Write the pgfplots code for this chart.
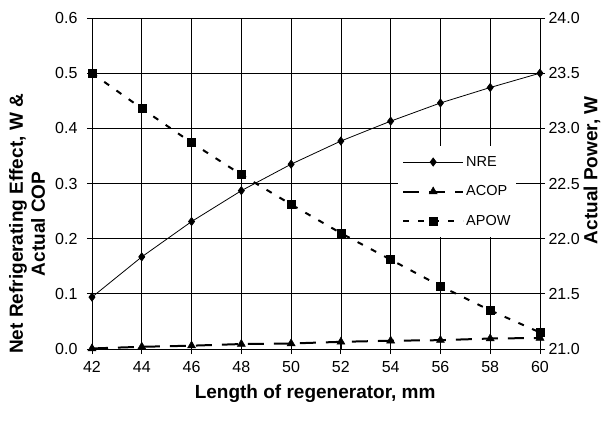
\documentclass[border=0pt]{standalone}
\usepackage{fontspec}
\setmainfont{Liberation Sans}
\usepackage{pgfplots}
\pgfplotsset{compat=1.18}

\pgfplotsset{
  chartbase/.style={
    scale only axis, width=448pt, height=331pt,
    xmin=42, xmax=60,
    tick align=center, major tick length=10pt,
    tick style={black, line width=0.8pt},
    axis line style={black, line width=0.8pt},
    ticklabel style={font=\fontsize{16}{18}\selectfont},
    /pgf/number format/assume math mode=true,
    label style={font=\fontsize{19}{22}\selectfont\bfseries},
  },
  nre/.style={black, line width=0.8pt, mark=diamond*, mark size=4pt, mark options={solid}},
  acop/.style={black, line width=2pt, dash pattern=on 16pt off 10pt, mark=triangle*, mark size=4.6pt, mark options={solid, line width=0.5pt}},
  apow/.style={black, line width=2pt, dash pattern=on 6pt off 9pt, mark=square*, mark size=4pt, mark options={solid, line width=0.5pt}},
}

\begin{document}
\begin{tikzpicture}
\useasboundingbox (-92pt,-72pt) rectangle (511pt,349pt);
\begin{axis}[
  chartbase,
  ymin=0, ymax=0.6,
  xtick={42,44,46,48,50,52,54,56,58,60},
  ytick={0,0.1,0.2,0.3,0.4,0.5,0.6},
  xtick pos=bottom, ytick pos=left,
  xticklabel style={yshift=-4pt},
  yticklabel style={xshift=-6pt, /pgf/number format/.cd, fixed, fixed zerofill, precision=1},
  grid=major, major grid style={black, line width=0.7pt},
  xlabel={Length of regenerator, mm},
  xlabel style={at={(axis description cs:0.498,-0.135)}, anchor=center},
  ylabel={Net Refrigerating Effect, W \&\\Actual COP},
  ylabel style={align=center, at={(axis description cs:-0.145,0.378)}, anchor=center},
  legend style={at={(axis description cs:0.683,0.613)}, anchor=north west,
    draw=none, fill=white, font=\fontsize{14.5}{16}\selectfont,
    row sep=14pt, inner xsep=4pt, inner ysep=8pt},
  legend cell align=left,
  legend image code/.code={\draw[mark repeat=2, mark phase=2, #1] plot coordinates {(0pt,0pt) (30pt,0pt) (60pt,0pt)};},
]
\addplot[nre] coordinates {(42,0.094) (44,0.167) (46,0.231) (48,0.287) (50,0.335) (52,0.377) (54,0.413) (56,0.446) (58,0.474) (60,0.500)};
\addlegendentry{NRE}
\addplot[acop] coordinates {(42,0.001) (44,0.004) (46,0.006) (48,0.009) (50,0.010) (52,0.013) (54,0.015) (56,0.016) (58,0.019) (60,0.020)};
\addlegendentry{ACOP}
\addlegendimage{apow}
\addlegendentry{APOW}
\end{axis}
\begin{axis}[
  chartbase,
  ymin=21, ymax=24,
  axis x line=none,
  axis y line*=right,
  ytick={21,21.5,22,22.5,23,23.5,24},
  yticklabel style={/pgf/number format/.cd, fixed, fixed zerofill, precision=1},
  ylabel={Actual Power, W},
  ylabel style={at={(axis description cs:1.116,0.54)}, anchor=center},
]
\addplot[apow] coordinates {(42,23.50) (44,23.18) (46,22.87) (48,22.58) (50,22.31) (52,22.05) (54,21.81) (56,21.57) (58,21.35) (60,21.15)};
\end{axis}
\end{tikzpicture}
\end{document}
